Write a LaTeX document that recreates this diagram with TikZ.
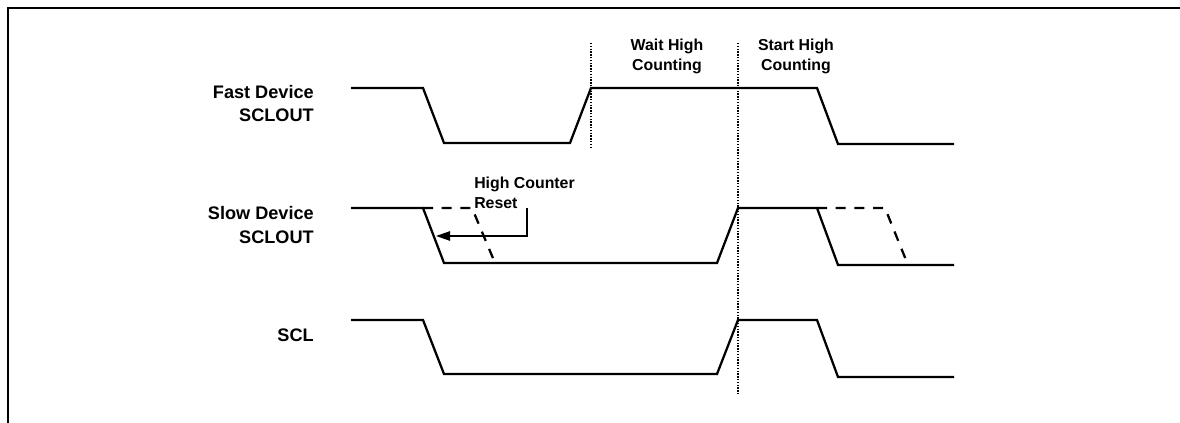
\documentclass[tikz,border=0pt]{standalone}
\usepackage{fontspec}
\setmainfont{Liberation Sans}
\usetikzlibrary{arrows.meta}
\tikzset{
    wave/.style={line width=1.7pt, line join=miter},
    wavedash/.style={line width=1.7pt, dash pattern=on 7.5pt off 6.5pt},
    marker/.style={line width=0.9pt, dash pattern=on 1pt off 1.1pt},
    lbl/.style={font=\bfseries\fontsize{13.6pt}{17.3pt}\selectfont, inner sep=0pt},
    lblsmall/.style={font=\bfseries\fontsize{11.9pt}{15pt}\selectfont, inner sep=0pt},
    framing/.style={line width=1.5pt}
}
\begin{document}
\begin{tikzpicture}[x=0.75pt, y=-0.75pt]
        % Page
        \useasboundingbox (0,0) rectangle (1180,423);
        \coordinate (fBL) at (8,423);
        \coordinate (fTL) at (8,8);
        \coordinate (fTR) at (1180,8);
        \draw[framing] (fBL) -- (fTL) -- (fTR);

        % Labels
        \node[lbl, anchor=east, align=right] (fastLabel) at (314,103.5) {Fast Device\\SCLOUT};
        \node[lbl, anchor=east, align=right] (slowLabel) at (314,225) {Slow Device\\SCLOUT};
        \node[lbl, anchor=east] (sclLabel) at (314,335) {SCL};
        \node[lblsmall, align=center] (waitLabel) at (667,56) {Wait High\\Counting};
        \node[lblsmall, align=center] (startLabel) at (796,56) {Start High\\Counting};
        \node[lblsmall, anchor=north west, align=left] (resetLabel) at (474,177) {High Counter\\Reset};

        % Fast Device
        \draw[wave] (351,88) -- (423,88) -- (444,143) -- (570,143) -- (591,88) -- (817,88) -- (838,144) -- (954,144);

        % Slow Device
        \draw[wave] (351,208) -- (423,208) -- (444,263) -- (717,263) -- (738,208) -- (817,208) -- (838,265) -- (954,265);
        \draw[wavedash] (423,208) -- (472,208) -- (495,263);
        \draw[wavedash] (817,208) -- (885,208) -- (908,265);

        % Counter reset
        \coordinate (resetTop) at (527,208);
        \coordinate (resetCorner) at (527,236);
        \coordinate (resetTip) at (436,236);
        \draw[line width=1.1pt, -{Triangle[length=10.5pt,width=7pt]}] (resetTop) -- (resetCorner) -- (resetTip);

        % SCL
        \draw[wave] (351,320) -- (423,320) -- (444,374) -- (717,374) -- (738,320) -- (817,320) -- (838,377) -- (954,377);

        % Markers
        \coordinate (waitTop) at (591,43);
        \coordinate (waitBottom) at (591,147);
        \coordinate (startTop) at (738,43);
        \coordinate (startBottom) at (738,395);
        \draw[marker] (waitTop) -- (waitBottom);
        \draw[marker] (startTop) -- (startBottom);
\end{tikzpicture}
\end{document}
